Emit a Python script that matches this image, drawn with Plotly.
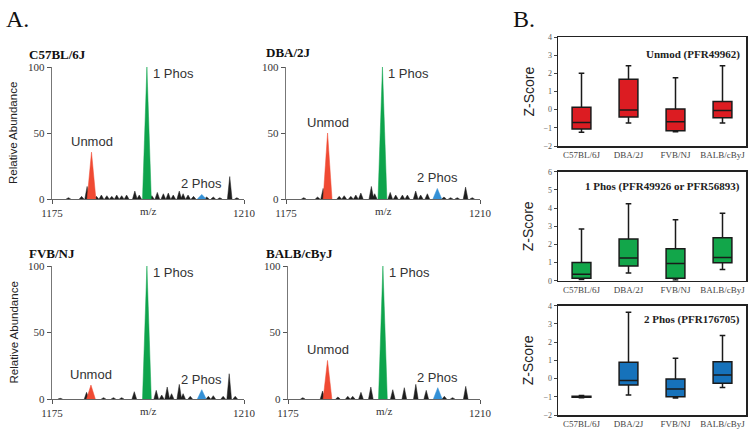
import plotly.graph_objects as go

# ---------------- data ----------------
STRAINS = ["C57BL/6J", "DBA/2J", "FVB/NJ", "BALB/cByJ"]
MZ_TICKS = [1175, 1210]
ABUND_TICKS = [0, 50, 100]

# Panel A: peak centroids (m/z), relative abundance, ion assignment ("" = unassigned)
C57_MZ = [1178.0, 1180.4, 1181.4, 1182.2, 1183.1, 1184.0, 1185.0, 1185.9, 1186.8, 1187.7, 1188.6,
          1190.1, 1190.9, 1192.3, 1193.2, 1194.2, 1195.3, 1196.2, 1197.1, 1198.2, 1198.9, 1199.8,
          1200.8, 1202.3, 1203.2, 1204.4, 1205.6, 1207.4, 1208.7]
C57_INT = [1, 2, 9.5, 35.5, 2, 3, 2.5, 2, 3, 2.5, 3, 6, 3, 100, 2.5, 5, 4, 4.5, 3, 6, 4, 3, 2,
           3.5, 1.5, 1.5, 1, 17, 1]
C57_ION = ["", "", "", "Unmod", "", "", "", "", "", "", "", "", "", "1 Phos", "", "", "", "", "",
           "", "", "", "", "2 Phos", "", "", "", "", ""]

DBA_MZ = [1178.2, 1180.7, 1181.7, 1182.5, 1184.6, 1185.5, 1186.7, 1187.6, 1188.5, 1190.4, 1191.0,
          1192.4, 1193.8, 1194.8, 1196.0, 1196.9, 1198.4, 1199.3, 1200.5, 1202.3, 1203.5, 1204.7,
          1205.9, 1207.4, 1208.6]
DBA_INT = [1, 1.5, 8, 50, 2, 2.5, 2, 3, 4.5, 9.5, 4, 100, 5, 3, 3, 3, 6, 3, 4, 8, 1.5, 1, 1, 9, 1]
DBA_ION = ["", "", "", "Unmod", "", "", "", "", "", "", "", "1 Phos", "", "", "", "", "", "", "",
           "2 Phos", "", "", "", "", ""]

FVB_MZ = [1176.5, 1181.3, 1182.1, 1184.4, 1186.2, 1187.7, 1190.0, 1192.3, 1194.0, 1195.0, 1196.0,
          1196.8, 1198.2, 1198.9, 1200.2, 1202.3, 1203.5, 1204.4, 1206.2, 1207.3, 1208.4]
FVB_INT = [0.5, 5, 10.5, 1, 1, 1, 5.5, 100, 6.5, 3, 9, 4, 11, 4, 2, 7, 2, 2.5, 2, 19, 2]
FVB_ION = ["", "", "Unmod", "", "", "", "", "1 Phos", "", "", "", "", "", "", "", "2 Phos", "", "",
           "", "", ""]

BALB_MZ = [1177.7, 1181.3, 1182.2, 1184.1, 1185.9, 1186.8, 1188.3, 1190.1, 1192.3, 1194.1, 1196.2,
           1198.3, 1200.2, 1202.3, 1203.5, 1205.0, 1207.4]
BALB_INT = [1, 6, 29, 1.5, 2, 2, 5, 9, 100, 7, 8.5, 11, 6.5, 8.5, 2, 1, 9.5]
BALB_ION = ["", "", "Unmod", "", "", "", "", "", "1 Phos", "", "", "", "", "2 Phos", "", "", ""]

# Panel B: Z-score box summaries per strain
UNMOD_LOW = [-1.25, -0.73, -1.22, -0.73]
UNMOD_Q1 = [-1.07, -0.40, -1.16, -0.44]
UNMOD_MED = [-0.71, -0.02, -0.67, -0.05]
UNMOD_Q3 = [0.13, 1.67, 0.04, 0.45]
UNMOD_HIGH = [2.0, 2.42, 1.76, 2.42]

PHOS1_LOW = [0.07, 0.42, 0.04, 0.62]
PHOS1_Q1 = [0.13, 0.81, 0.13, 0.99]
PHOS1_MED = [0.35, 1.25, 0.95, 1.28]
PHOS1_Q3 = [1.0, 2.29, 1.76, 2.37]
PHOS1_HIGH = [2.84, 4.24, 3.36, 3.71]

PHOS2_LOW = [-1.05, -0.90, -1.06, -0.49]
PHOS2_Q1 = [-1.03, -0.35, -1.0, -0.26]
PHOS2_MED = [-1.0, -0.11, -0.57, 0.20]
PHOS2_Q3 = [-0.97, 0.90, -0.02, 0.93]
PHOS2_HIGH = [-0.93, 3.64, 1.12, 2.36]

# ---------------- styles ----------------
W, H = 754, 434
SERIF = "Liberation Serif, Times New Roman, serif"
SANS = "Liberation Sans, Arial, sans-serif"
PEAK_COL = {"": "#1e1e1e", "Unmod": "#f04a33", "1 Phos": "#0ea44c", "2 Phos": "#3390d6"}
BOX_COL = ["#dc1c22", "#12a64a", "#1672bb"]


def px_x(p):
    return p / W


def px_y(p):
    return 1 - p / H


fig = go.Figure()

spec_panels = [
    ("", C57_MZ, C57_INT, C57_ION, (52, 244), (67, 199), "C57BL/6J", (27, 54), True),
    ("2", DBA_MZ, DBA_INT, DBA_ION, (286, 480), (67, 199), "DBA/2J", (264, 53), False),
    ("3", FVB_MZ, FVB_INT, FVB_ION, (52, 244), (266, 399), "FVB/NJ", (27, 253), True),
    ("4", BALB_MZ, BALB_INT, BALB_ION, (288, 480), (266, 399), "BALB/cByJ", (264, 253), False),
]

annotations = []
layout_axes = {}

for suf, mzs, ints, ions, (x0, x1), (ytop, ybot), title, (tx, ty), ylab in spec_panels:
    xa = "x" + suf
    ya = "y" + suf
    for ion in ["", "Unmod", "1 Phos", "2 Phos"]:
        xs, ys = [], []
        hw = 0.42 if ion == "" else 0.8
        for m, h, i in zip(mzs, ints, ions):
            if i != ion:
                continue
            xs += [m - hw, m, m + hw, None]
            ys += [0, h, 0, None]
        fig.add_trace(go.Scatter(x=xs, y=ys, xaxis=xa, yaxis=ya, mode="lines",
                                 fill="toself", fillcolor=PEAK_COL[ion],
                                 line=dict(color=PEAK_COL[ion], width=0.5),
                                 hoverinfo="skip"))
    layout_axes["xaxis" + suf] = dict(
        domain=[px_x(x0), px_x(x1)], anchor=ya, range=[MZ_TICKS[0], MZ_TICKS[-1]],
        tickvals=MZ_TICKS, ticks="outside", ticklen=4, tickcolor="#555", automargin=False,
        showline=True, linecolor="#666", linewidth=1, showgrid=False, zeroline=False,
        tickfont=dict(family=SERIF, size=11, color="#333"))
    layout_axes["yaxis" + suf] = dict(
        domain=[px_y(ybot), px_y(ytop)], anchor=xa, range=[0, 100], automargin=False,
        tickvals=ABUND_TICKS, ticks="outside", ticklen=4, tickcolor="#555",
        showline=True, linecolor="#777", linewidth=1.2, showgrid=False, zeroline=False,
        tickfont=dict(family=SERIF, size=11, color="#333"))
    annotations.append(dict(text="<b>" + title + "</b>", x=px_x(tx), y=px_y(ty), xref="paper",
                            yref="paper", xanchor="left", yanchor="middle", showarrow=False,
                            font=dict(family=SERIF, size=13, color="#111")))
    annotations.append(dict(text="m/z", x=0.5, y=0, xref=xa + " domain", yref=ya + " domain",
                            xanchor="center", yanchor="middle", yshift=-12, showarrow=False,
                            font=dict(family=SERIF, size=11, color="#333")))
    if ylab:
        annotations.append(dict(text="Relative Abundance", x=px_x(13), y=0.5, xref="paper",
                                yref=ya + " domain", textangle=-90, showarrow=False,
                                xanchor="center", yanchor="middle",
                                font=dict(family=SANS, size=11.5, color="#222")))
    for m, h, i in zip(mzs, ints, ions):
        if i == "Unmod" or i == "2 Phos":
            annotations.append(dict(text=i, x=m, y=h, xref=xa, yref=ya, xanchor="center",
                                    yanchor="bottom", yshift=1, showarrow=False,
                                    font=dict(family=SANS, size=13, color="#333")))
        elif i == "1 Phos":
            annotations.append(dict(text=i, x=m, y=h, xref=xa, yref=ya, xanchor="left",
                                    yanchor="middle", xshift=4, yshift=-6, showarrow=False,
                                    font=dict(family=SANS, size=13, color="#333")))

box_panels = [
    ("5", UNMOD_LOW, UNMOD_Q1, UNMOD_MED, UNMOD_Q3, UNMOD_HIGH, (37, 146), [-2, 4],
     "Unmod (PFR49962)", 55, BOX_COL[0]),
    ("6", PHOS1_LOW, PHOS1_Q1, PHOS1_MED, PHOS1_Q3, PHOS1_HIGH, (171.7, 280.7), [0, 6],
     "1 Phos (PFR49926 or PFR56893)", 186, BOX_COL[1]),
    ("7", PHOS2_LOW, PHOS2_Q1, PHOS2_MED, PHOS2_Q3, PHOS2_HIGH, (305.7, 415), [-2, 4],
     "2 Phos (PFR176705)", 319, BOX_COL[2]),
]
BX0, BX1 = 558, 746

for suf, lo, q1, med, q3, hi, (ytop, ybot), yr, title, ty, col in box_panels:
    xa = "x" + suf
    ya = "y" + suf
    fig.add_trace(go.Box(x=STRAINS, lowerfence=lo, q1=q1, median=med, q3=q3, upperfence=hi,
                         xaxis=xa, yaxis=ya, fillcolor=col, line=dict(color="#1a1a1a", width=1.5),
                         width=0.4, whiskerwidth=0.3, boxpoints=False, hoverinfo="skip"))
    layout_axes["xaxis" + suf] = dict(
        domain=[px_x(BX0), px_x(BX1)], anchor=ya, type="category", categoryorder="array",
        categoryarray=STRAINS, range=[-0.5, 3.5], showline=True, mirror=True, automargin=False,
        linecolor="#222", linewidth=1.5, ticks="", showgrid=False, zeroline=False,
        tickfont=dict(family=SERIF, size=9, color="#444"))
    layout_axes["yaxis" + suf] = dict(
        domain=[px_y(ybot), px_y(ytop)], anchor=xa, range=yr, dtick=1, ticks="outside",
        ticklen=3, tickcolor="#444", showline=True, mirror=True, linecolor="#222",
        linewidth=1.5, showgrid=False, zeroline=False, automargin=False,
        tickfont=dict(family=SERIF, size=8, color="#555"))
    annotations.append(dict(text="<b>" + title + "</b>", x=px_x(742), y=px_y(ty), xref="paper",
                            yref="paper", xanchor="right", yanchor="middle", showarrow=False,
                            font=dict(family=SERIF, size=11, color="#222")))
    annotations.append(dict(text="Z-Score", x=px_x(528), y=0.5, xref="paper",
                            yref=ya + " domain", textangle=-90, showarrow=False,
                            xanchor="center", yanchor="middle",
                            font=dict(family=SANS, size=14, color="#222")))

annotations.append(dict(text="A.", x=px_x(4), y=px_y(19), xref="paper", yref="paper",
                        xanchor="left", yanchor="middle", showarrow=False,
                        font=dict(family=SERIF, size=24, color="#111")))
annotations.append(dict(text="B.", x=px_x(511), y=px_y(19), xref="paper", yref="paper",
                        xanchor="left", yanchor="middle", showarrow=False,
                        font=dict(family=SERIF, size=24, color="#111")))

fig.update_layout(width=W, height=H, margin=dict(l=0, r=0, t=0, b=0, pad=0, autoexpand=False),
                  paper_bgcolor="white", plot_bgcolor="white", showlegend=False,
                  hovermode=False, annotations=annotations, **layout_axes)

fig.write_html("out.html", config={"displayModeBar": False, "staticPlot": True},
               post_script="document.body.style.margin='0';")
